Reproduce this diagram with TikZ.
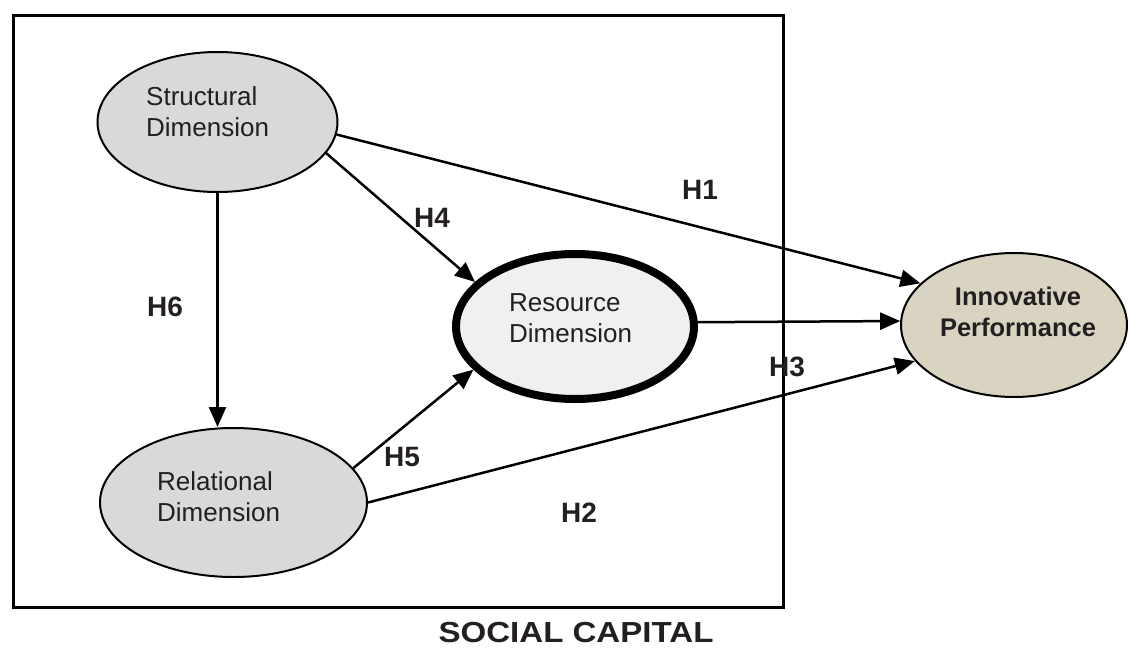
\documentclass[tikz,border=0pt]{standalone}
\usepackage{fontspec}
\setmainfont{Liberation Sans}
\usetikzlibrary{shapes.geometric,arrows.meta}
\definecolor{txt}{RGB}{35,31,32}
\definecolor{grayfill}{RGB}{217,217,217}
\definecolor{resfill}{RGB}{240,240,240}
\definecolor{innfill}{RGB}{217,212,194}
\tikzset{
  ell/.style={ellipse, draw=black, line width=2pt, inner sep=0pt},
  lbl/.style={text=txt, inner sep=0pt, align=left, font=\fontsize{26}{31}\selectfont},
  hyp/.style={text=txt, inner sep=0pt, font=\fontsize{28}{33}\selectfont\bfseries},
  arr/.style={line width=2.5pt, -{Triangle[length=20pt,width=17pt]}},
}
\begin{document}
\begin{tikzpicture}[x=1pt,y=-1pt]
\useasboundingbox (0,0) rectangle (1128,648);
% frame
\node[draw=black, line width=2.5pt, minimum width=770pt, minimum height=592pt, inner sep=0pt, anchor=north west] (box) at (12,14) {};
\node[hyp, font=\fontsize{29}{34}\selectfont\bfseries] (sc) at (576,633) {\scalebox{1.14}[1]{SOCIAL CAPITAL}};
% ellipses
\node[ell, fill=grayfill, minimum width=240pt, minimum height=140pt] (S) at (217.5,122) {};
\node[ell, fill=grayfill, minimum width=267pt, minimum height=149pt] (R) at (233.5,502.5) {};
\node[ell, fill=resfill, line width=8pt, minimum width=238pt, minimum height=145pt] (Res) at (575,326.5) {};
\node[ell, fill=innfill, minimum width=226pt, minimum height=144pt] (I) at (1014,325) {};
% texts
\node[lbl, anchor=west] (St) at (146,112) {Structural\\Dimension};
\node[lbl, anchor=west] (Rt) at (157,497) {Relational\\Dimension};
\node[lbl, anchor=west] (Rest) at (509,318.5) {Resource\\Dimension};
\node[lbl, align=center, font=\fontsize{25.5}{31}\selectfont\bfseries] (It) at (1018,312) {Innovative\\Performance};
% connectors
\draw[arr] (S.-6) -- (I.156);
\draw[arr] (S.-16) -- (Res.156);
\draw[arr] (S.south) -- (S.south |- R.north);
\draw[arr] (Res.2) -- (I.178);
\draw[arr] (R.16.7) -- (Res.203.7);
\draw[arr] (R.east) -- (I.200);
% hypotheses
\node[hyp] (h1) at (700,190) {H1};
\node[hyp] (h2) at (579,513) {H2};
\node[hyp] (h3) at (787,366.5) {H3};
\node[hyp] (h4) at (432,218) {H4};
\node[hyp] (h5) at (402,457) {H5};
\node[hyp] (h6) at (165,307) {H6};
\end{tikzpicture}
\end{document}
